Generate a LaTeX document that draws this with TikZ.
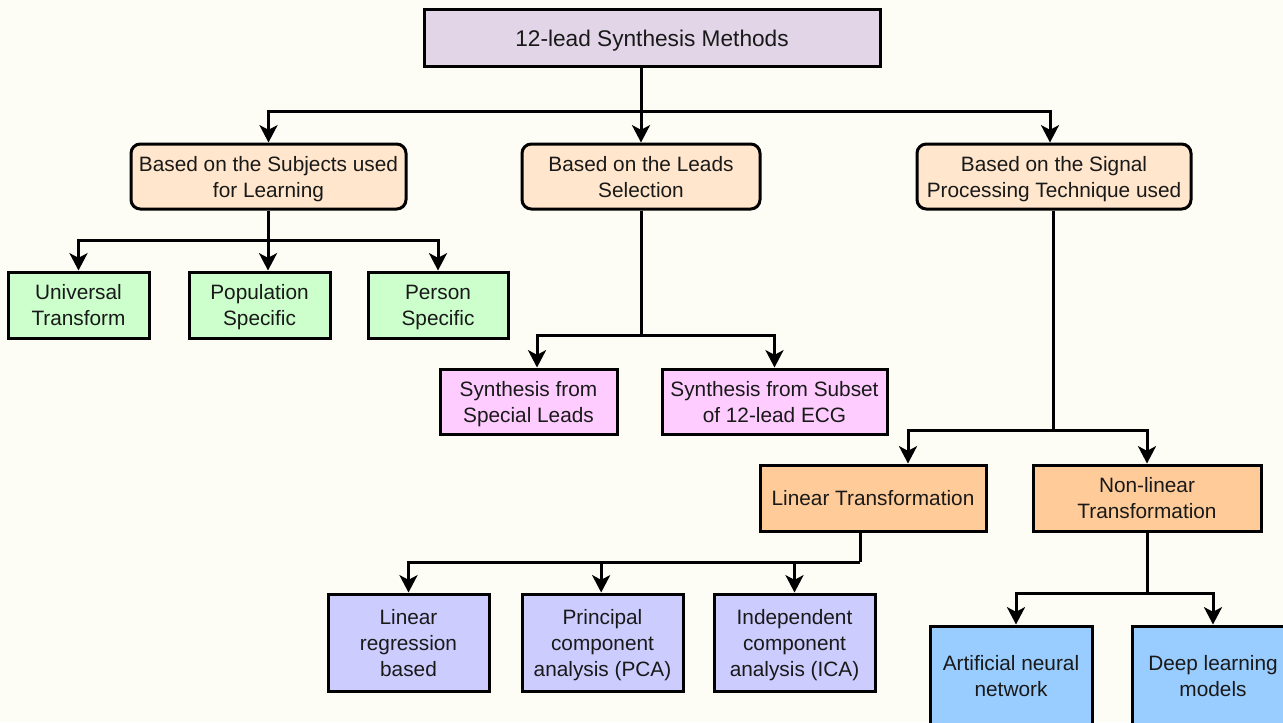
\documentclass[tikz,border=0pt]{standalone}
\usepackage{fontspec}
\setmainfont{Liberation Sans}
\usetikzlibrary{arrows.meta,calc}

\definecolor{bgcream}{HTML}{FDFDF6}
\definecolor{rootfill}{HTML}{E1D5E7}
\definecolor{catfill}{HTML}{FFE6CC}
\definecolor{greenfill}{HTML}{CCFFCC}
\definecolor{pinkfill}{HTML}{FFCCFF}
\definecolor{orangefill}{HTML}{FFCC99}
\definecolor{lilacfill}{HTML}{CCCCFF}
\definecolor{bluefill}{HTML}{99CCFF}

\tikzset{
  box/.style={draw=black, line width=2.25pt, align=center, inner sep=2pt,
    font=\fontsize{15.6}{19.5}\selectfont, text=black!90,
    text depth=0pt, twolines},
  % fixed text heights keep the lines at the same place in every box
  onelines/.style={text height=11.25pt},
  twolines/.style={text height=30.75pt},
  threelines/.style={text height=50.25pt},
  catbox/.style={box, fill=catfill, rounded corners=7pt, minimum height=48.75pt},
  leafbox/.style={box, minimum height=49.5pt},
  link/.style={line width=2.25pt},
  arr/.style={link, -{Stealth[length=13pt,width=13.5pt,inset=3.5pt]}},
}

\begin{document}
\begin{tikzpicture}[x=0.75pt,y=-0.75pt]
  \useasboundingbox (0,0) rectangle (1283,722);
  \clip (0,0) rectangle (1283,722);
  \fill[bgcream] (0,0) rectangle (1283,722);

  % root
  \node[box, fill=rootfill, minimum width=342pt, minimum height=42.75pt,
    font=\fontsize{17}{21}\selectfont, text height=14pt]
    (root) at (652,37.5) {12-lead Synthesis Methods};

  % categories
  \node[catbox, minimum width=206.25pt] (subj) at (268.5,176.5)
    {Based on the Subjects used\\for Learning};
  \node[catbox, minimum width=178.5pt] (leads) at (641,176.5)
    {Based on the Leads\\Selection};
  \node[catbox, minimum width=205.5pt] (sig) at (1054,176.5)
    {Based on the Signal\\Processing Technique used};

  % subjects
  \node[leafbox, fill=greenfill, minimum width=105.75pt] (univ) at (78.5,305)
    {Universal\\Transform};
  \node[leafbox, fill=greenfill, minimum width=105.75pt] (pop) at (259.5,305)
    {Population\\Specific};
  \node[leafbox, fill=greenfill, minimum width=105pt] (pers) at (438,305)
    {Person\\Specific};

  % leads
  \node[leafbox, fill=pinkfill, minimum width=132.75pt, minimum height=48.75pt]
    (special) at (528.5,401.5) {Synthesis from\\Special Leads};
  \node[leafbox, fill=pinkfill, minimum width=168.75pt, minimum height=48.75pt]
    (subset) at (774.5,401.5) {Synthesis from Subset\\of 12-lead ECG};

  % signal processing
  \node[leafbox, fill=orangefill, minimum width=169.5pt, onelines]
    (lin) at (873,498) {Linear Transformation};
  \node[leafbox, fill=orangefill, minimum width=171pt] (nonlin) at (1147,498)
    {Non-linear\\Transformation};

  % linear methods
  \node[leafbox, fill=lilacfill, minimum width=120.75pt, minimum height=72.75pt,
    threelines] (linreg) at (408.5,642.5) {Linear\\regression\\based};
  \node[leafbox, fill=lilacfill, minimum width=120.75pt, minimum height=72.75pt,
    threelines] (pca) at (602.5,642.5) {Principal\\component\\analysis (PCA)};
  \node[leafbox, fill=lilacfill, minimum width=120.75pt, minimum height=72.75pt,
    threelines] (ica) at (794.5,642.5) {Independent\\component\\analysis (ICA)};

  % non-linear methods
  \node[leafbox, fill=bluefill, minimum width=121.5pt, minimum height=75pt]
    (ann) at (1011,676) {Artificial neural\\network};
  \node[leafbox, fill=bluefill, minimum width=121.5pt, minimum height=75pt]
    (dl) at (1213,676) {Deep learning\\models};

  % root -> categories
  \coordinate (j1) at (641,111);
  \draw[link] (root.south -| leads.north) -- (j1);
  \draw[arr] (j1) -- (leads.north);
  \draw[arr] (j1) -| (subj.north);
  \draw[arr] (j1) -| ([xshift=-3pt]sig.north);

  % subjects -> leaves
  \coordinate (j2) at (268,240);
  \draw[link] (subj.south -| j2) -- (j2);
  \draw[arr] (j2) -- (j2 |- pop.north);
  \draw[arr] (j2) -| (univ.north);
  \draw[arr] (j2) -| (pers.north);

  % leads -> leaves
  \coordinate (j3) at (641,335);
  \draw[link] (leads.south) -- (j3);
  \draw[arr] (j3) -| ([xshift=6.4pt]special.north);
  \draw[arr] (j3) -| (subset.north);

  % signal processing -> linear / non-linear
  \coordinate (j4) at (1053,430);
  \draw[link] (sig.south -| j4) -- (j4);
  \draw[arr] (j4) -| ([xshift=26.25pt]lin.north);
  \draw[arr] (j4) -| (nonlin.north);

  % linear -> methods
  \coordinate (j5) at (860,562);
  \draw[link] (lin.south -| j5) -- (j5);
  \draw[arr] (j5) -| (ica.north);
  \draw[arr] (j5) -| ([xshift=-1pt]pca.north);
  \draw[arr] (j5) -| (linreg.north);

  % non-linear -> methods
  \coordinate (j6) at (1147,593);
  \draw[link] (nonlin.south) -- (j6);
  \draw[arr] (j6) -| ([xshift=3.75pt]ann.north);
  \draw[arr] (j6) -| (dl.north);
\end{tikzpicture}
\end{document}
